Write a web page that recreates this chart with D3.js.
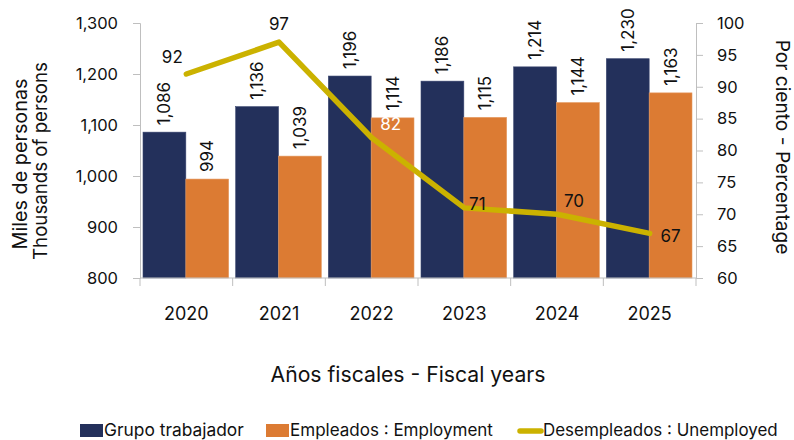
<!DOCTYPE html>
<html>
<head>
<meta charset="utf-8">
<script src="https://cdn.jsdelivr.net/npm/d3@7"></script>
<style>
  body { margin: 0; background: #fff; }
  text { font-family: Inter, "Noto Sans", sans-serif; fill: #111; }
</style>
</head>
<body>
<svg id="chart" width="794" height="440"></svg>
<script>
var years = ["2020", "2021", "2022", "2023", "2024", "2025"];
var grupoTrabajador = [1086, 1136, 1196, 1186, 1214, 1230];
var empleados = [994, 1039, 1114, 1115, 1144, 1163];
var desempleados = [92, 97, 82, 71, 70, 67];
var leftTicks = [800, 900, 1000, 1100, 1200, 1300];
var rightTicks = [60, 65, 70, 75, 80, 85, 90, 95, 100];

var svg = d3.select("#chart"),
    mLeft = 140, mRight = 696, mTop = 23, mBottom = 278;

var x = d3.scaleBand().domain(years).range([mLeft, mRight]);
var xSub = d3.scaleBand().domain(["g", "e"]).range([3, x.bandwidth() - 4]);
var y = d3.scaleLinear().domain([800, 1300]).range([mBottom, mTop]);
var y2 = d3.scaleLinear().domain([60, 100]).range([mBottom, mTop]);
var fmt = d3.format(",");

var navy = "#23305b", orange = "#dc7b33", gold = "#cbb200", grid = "#bfbfbf";

// squeeze/stretch a text to the width it has in the picture
function fit(sel, w) {
    sel.each(function () {
        var fs = parseFloat(this.style.fontSize);
        var len = this.getComputedTextLength();
        if (len > 0) this.style.fontSize = (fs * w / len) + "px";
    });
    return sel;
}

// axes
var yAxis = svg.append("g").attr("transform", "translate(" + mLeft + ",0)")
    .call(d3.axisLeft(y).tickValues(leftTicks).tickFormat(fmt).tickSize(7).tickPadding(15));
var y2Axis = svg.append("g").attr("transform", "translate(" + mRight + ",0)")
    .call(d3.axisRight(y2).tickValues(rightTicks).tickSize(7).tickPadding(14));
[yAxis, y2Axis].forEach(function (a) {
    a.select(".domain").attr("stroke", grid);
    a.selectAll(".tick line").attr("stroke", grid);
    a.selectAll("text").attr("font-family", null).style("font-size", "16.5px").attr("fill", "#111");
});

// bars
var groups = svg.append("g").selectAll("g")
    .data(years)
    .enter().append("g")
    .attr("transform", function (d) { return "translate(" + x(d) + ",0)"; });

groups.append("rect")
    .attr("x", xSub("g"))
    .attr("width", xSub.bandwidth())
    .attr("y", function (d, i) { return y(grupoTrabajador[i]); })
    .attr("height", function (d, i) { return mBottom - y(grupoTrabajador[i]); })
    .attr("fill", navy).attr("stroke", "#3a4670").attr("stroke-width", 0.6);

groups.append("rect")
    .attr("x", xSub("e"))
    .attr("width", xSub.bandwidth())
    .attr("y", function (d, i) { return y(empleados[i]); })
    .attr("height", function (d, i) { return mBottom - y(empleados[i]); })
    .attr("fill", orange).attr("stroke", "#e59a63").attr("stroke-width", 0.6);

// bar value labels (rotated)
groups.append("text")
    .attr("transform", function (d, i) {
        return "translate(" + (xSub("g") + xSub.bandwidth() / 2 + 6) + "," + (y(grupoTrabajador[i]) - 7) + ") rotate(-90)";
    })
    .style("font-size", "17px")
    .text(function (d, i) { return fmt(grupoTrabajador[i]); });

groups.append("text")
    .attr("transform", function (d, i) {
        return "translate(" + (xSub("e") + xSub.bandwidth() / 2 + 6) + "," + (y(empleados[i]) - 7) + ") rotate(-90)";
    })
    .style("font-size", "17px")
    .text(function (d, i) { return fmt(empleados[i]); });

// x axis
svg.append("line").attr("x1", mLeft).attr("x2", mRight).attr("y1", mBottom).attr("y2", mBottom)
    .attr("stroke", grid);
svg.append("g").selectAll("line")
    .data(years.concat(["end"]))
    .enter().append("line")
    .attr("x1", function (d, i) { return mLeft + i * x.bandwidth(); })
    .attr("x2", function (d, i) { return mLeft + i * x.bandwidth(); })
    .attr("y1", mBottom).attr("y2", mBottom + 8)
    .attr("stroke", grid);
svg.append("g").selectAll("text")
    .data(years)
    .enter().append("text")
    .attr("x", function (d) { return x(d) + x.bandwidth() / 2; })
    .attr("y", 320)
    .attr("text-anchor", "middle")
    .style("font-size", "18px")
    .text(function (d) { return d; });

// unemployed line
var line = d3.line()
    .x(function (d, i) { return x(years[i]) + x.bandwidth() / 2; })
    .y(function (d) { return y2(d); });
svg.append("path")
    .datum(desempleados)
    .attr("d", line)
    .attr("fill", "none")
    .attr("stroke", gold)
    .attr("stroke-width", 5.5)
    .attr("stroke-linecap", "round")
    .attr("stroke-linejoin", "round");

// line labels: offsets [dx, dy] per point
var lineLabelOffset = [[-14, -16], [0, -17], [19, -12], [13, -3], [17, -12], [21, 4]];
svg.append("g").selectAll("text")
    .data(desempleados)
    .enter().append("text")
    .attr("x", function (d, i) { return x(years[i]) + x.bandwidth() / 2 + lineLabelOffset[i][0]; })
    .attr("y", function (d, i) { return y2(d) + lineLabelOffset[i][1]; })
    .attr("text-anchor", "middle")
    .attr("dominant-baseline", "middle")
    .style("font-size", "17px")
    .style("fill", function (d, i) { return i === 2 ? "#fff" : "#111"; })
    .text(function (d) { return d; });

// axis titles
fit(svg.append("text")
    .attr("transform", "translate(27,164) rotate(-90)")
    .attr("text-anchor", "middle")
    .style("font-size", "17px")
    .text("Miles de personas"), 171);
fit(svg.append("text")
    .attr("transform", "translate(47,161) rotate(-90)")
    .attr("text-anchor", "middle")
    .style("font-size", "17px")
    .text("Thousands of persons"), 198);
fit(svg.append("text")
    .attr("transform", "translate(776,147) rotate(90)")
    .attr("text-anchor", "middle")
    .style("font-size", "17px")
    .text("Por ciento - Percentage"), 215);
fit(svg.append("text")
    .attr("x", 408).attr("y", 382)
    .attr("text-anchor", "middle")
    .style("font-size", "18px")
    .text("Años fiscales - Fiscal years"), 275);

// legend
var legend = svg.append("g");
legend.append("rect").attr("x", 80).attr("y", 424).attr("width", 23).attr("height", 13).attr("fill", navy);
fit(legend.append("text").attr("x", 104).attr("y", 436).style("font-size", "15px").text("Grupo trabajador"), 140);
legend.append("rect").attr("x", 266).attr("y", 424).attr("width", 23).attr("height", 13).attr("fill", orange);
fit(legend.append("text").attr("x", 290).attr("y", 436).style("font-size", "15px").text("Empleados : Employment"), 203);
legend.append("line").attr("x1", 520).attr("x2", 541).attr("y1", 431).attr("y2", 431)
    .attr("stroke", gold).attr("stroke-width", 5.5).attr("stroke-linecap", "round");
fit(legend.append("text").attr("x", 543).attr("y", 436).style("font-size", "15px").text("Desempleados : Unemployed"), 235);
</script>
</body>
</html>
